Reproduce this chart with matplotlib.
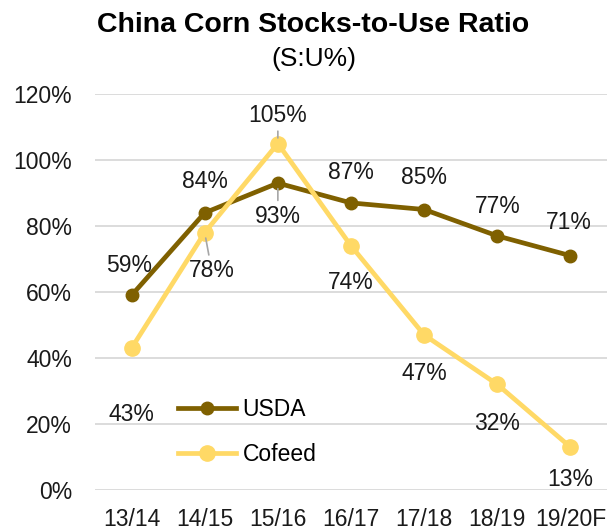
import numpy as np
import matplotlib
matplotlib.use("Agg")
from matplotlib import pyplot as plt

plt.rcParams['font.family'] = ['Liberation Sans', 'DejaVu Sans']

seasons = ["13/14", "14/15", "15/16", "16/17", "17/18", "18/19", "19/20F"]
usda = [59, 84, 93, 87, 85, 77, 71]
cofeed = [43, 78, 105, 74, 47, 32, 13]
yticks = [0, 20, 40, 60, 80, 100, 120]

usda_color = '#7F6000'
cofeed_color = '#FFD966'
grid_color = '#D9D9D9'
leader_color = '#A6A6A6'

# label offsets in pixels (dx, dy) relative to each point
usda_offsets = [(-2, 30), (0, 31), (0, -33), (0, 30), (0, 32), (0, 29), (-2, 33)]
cofeed_offsets = [(0, -66), (7, -38), (0, 28), (0, -37), (0, -39), (0, -39), (0, -32)]
usda_leaders = [False, False, True, False, False, False, False]
cofeed_leaders = [False, True, True, False, False, False, False]

fs = 16.5

fig = plt.figure(figsize=(6.09, 5.31), dpi=100)
ax = fig.add_axes([95/609, 41/531, 512/609, 396/531])

x = np.arange(len(seasons))
ax.plot(x, usda, '-o', color=usda_color, lw=3.4, ms=9, label='USDA', zorder=3)
ax.plot(x, cofeed, '-o', color=cofeed_color, lw=3.4, ms=11, label='Cofeed', zorder=4)


def add_labels(vals, offsets, leaders):
    for xi, v, (dx, dy), lead in zip(x, vals, offsets, leaders):
        kw = {}
        if lead:
            kw['arrowprops'] = dict(arrowstyle='-', color=leader_color, lw=1.2,
                                    shrinkA=1, shrinkB=4)
        ax.annotate("%d%%" % v, xy=(xi, v), xytext=(dx, dy),
                    textcoords='offset pixels', ha='center', va='center',
                    fontsize=fs, color='#1a1a1a', zorder=6, **kw)


add_labels(usda, usda_offsets, usda_leaders)
add_labels(cofeed, cofeed_offsets, cofeed_leaders)

ax.set_xlim(-0.5, len(seasons) - 0.5)
ax.set_ylim(0, 120)
ax.set_yticks(yticks)
ax.set_yticklabels(["%d%%" % t for t in yticks])
ax.set_xticks(x)
ax.set_xticklabels(seasons)
ax.tick_params(axis='both', length=0, labelsize=fs, colors='#1a1a1a')
ax.tick_params(axis='y', pad=16.5)
ax.tick_params(axis='x', pad=13)
ax.yaxis.grid(True, color=grid_color, lw=1.3)
ax.set_axisbelow(True)
for s in ax.spines.values():
    s.set_visible(False)

ax.legend(loc='lower left', bbox_to_anchor=(0.145, 0.037), frameon=False,
          fontsize=fs, handlelength=2.5, labelspacing=0.95, handletextpad=0.3,
          borderaxespad=0)

fig.text(0.514, 1 - 32/531, "China Corn Stocks-to-Use Ratio", ha='center', va='baseline',
         fontsize=20.5, fontweight='bold')
fig.text(0.515, 1 - 66/531, "(S:U%)", ha='center', va='baseline', fontsize=19)

fig.savefig("out.png", dpi=100)
